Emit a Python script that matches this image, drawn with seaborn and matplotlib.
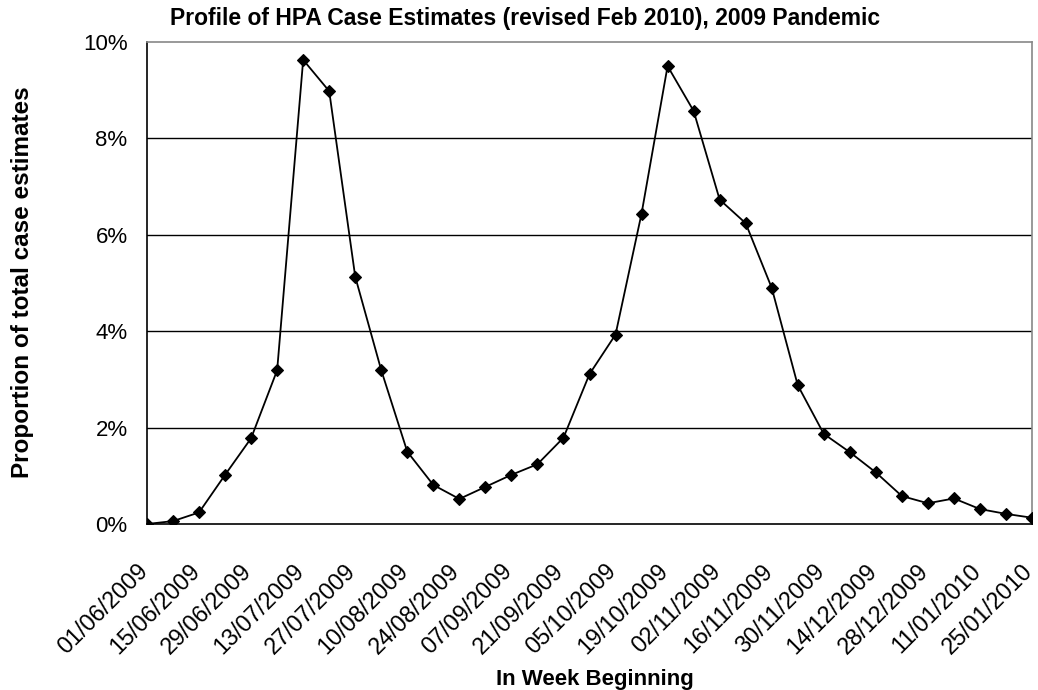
import pandas as pd
import matplotlib.pyplot as plt
import matplotlib.dates as mdates
import matplotlib.transforms as mtransforms
from matplotlib.ticker import PercentFormatter
import seaborn as sns

# Weekly share of total case estimates (proportion)
week_start = pd.date_range('2009-06-01', '2010-01-25', freq='7D')
proportion = [0.0000, 0.0006, 0.0024, 0.0102, 0.0178, 0.0319, 0.0963, 0.0898,
              0.0513, 0.0319, 0.0150, 0.0081, 0.0052, 0.0077, 0.0102, 0.0124,
              0.0179, 0.0311, 0.0393, 0.0644, 0.0950, 0.0857, 0.0673, 0.0624,
              0.0490, 0.0288, 0.0187, 0.0149, 0.0107, 0.0058, 0.0043, 0.0053,
              0.0031, 0.0021, 0.0013]
y_ticks = [0, 0.02, 0.04, 0.06, 0.08, 0.10]

df = pd.DataFrame({'Week': week_start, 'Proportion': proportion})

sns.set_style('white', rc={'text.color': 'black', 'axes.labelcolor': 'black',
                           'xtick.color': 'black', 'ytick.color': 'black'})
plt.rcParams['font.family'] = ['Liberation Sans', 'DejaVu Sans']

fig = plt.figure(figsize=(10.38, 6.90), dpi=100)
ax = fig.add_axes([147 / 1038, 1 - 524 / 690, (1032 - 147) / 1038, (524 - 42) / 690])

for yv in y_ticks[1:-1]:
    ax.axhline(yv, color='black', linewidth=1.0, zorder=1)

sns.lineplot(data=df, x='Week', y='Proportion', ax=ax, color='black',
             linewidth=1.3, marker='D', markersize=6.5, markeredgecolor='black',
             markeredgewidth=0.8, zorder=3)

ax.set_xlim(week_start[0], week_start[-1])
ax.set_ylim(0, 0.10)
ax.set_yticks(y_ticks)
ax.yaxis.set_major_formatter(PercentFormatter(1.0, decimals=0))

ax.set_xticks(week_start[::2])
ax.xaxis.set_major_formatter(mdates.DateFormatter('%d/%m/%Y'))

ax.tick_params(axis='y', direction='out', length=5, width=1, labelsize=16, pad=9)
ax.tick_params(axis='x', direction='out', length=5.5, width=1, labelsize=16.8, pad=26)
shift = mtransforms.ScaledTranslation(-3 / 100, 0, fig.dpi_scale_trans)
for lbl in ax.get_xticklabels():
    lbl.set_rotation(45)
    lbl.set_ha('right')
    lbl.set_va('center')
    lbl.set_rotation_mode('anchor')
    lbl.set_transform(lbl.get_transform() + shift)

for side in ['left', 'bottom']:
    ax.spines[side].set_color('black')
    ax.spines[side].set_linewidth(1.2)
for side in ['top', 'right']:
    ax.spines[side].set_color('#888888')
    ax.spines[side].set_linewidth(1.2)

ax.set_xlabel('')
ax.set_ylabel('')

fig.text(525 / 1038, 1 - 18 / 690,
         'Profile of HPA Case Estimates (revised Feb 2010), 2009 Pandemic',
         ha='center', va='center', fontsize=16.5, fontweight='bold')
fig.text(595 / 1038, 1 - 679 / 690, 'In Week Beginning',
         ha='center', va='center', fontsize=16, fontweight='bold')
fig.text(23 / 1038, 1 - 282 / 690, 'Proportion of total case estimates',
         ha='center', va='center', rotation=90, fontsize=17.5, fontweight='bold')

fig.savefig('out.png', dpi=100)
